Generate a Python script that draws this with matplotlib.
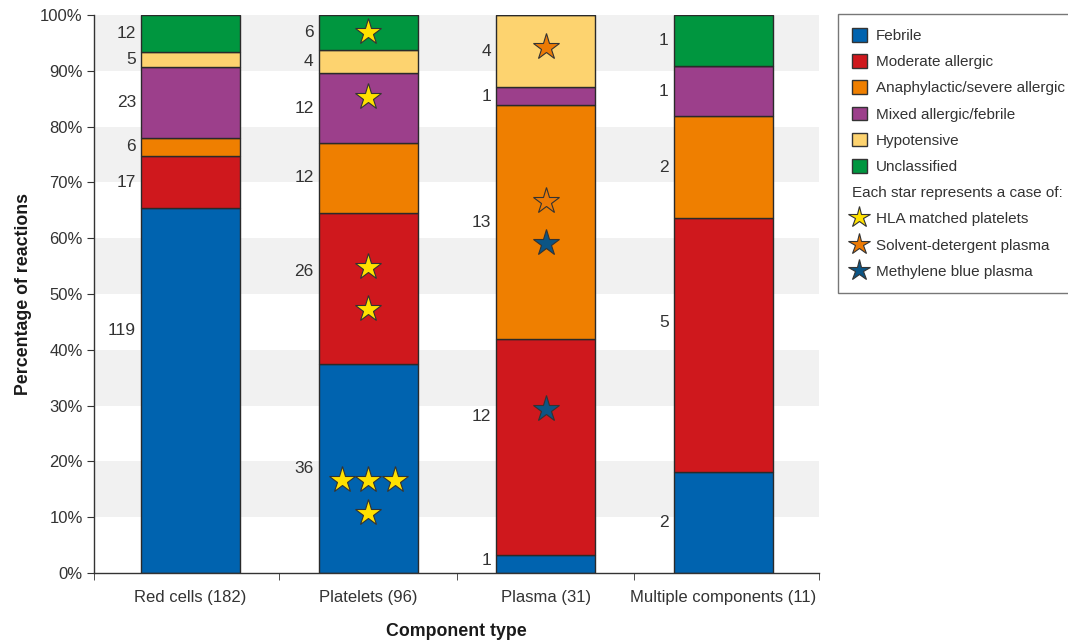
import matplotlib
matplotlib.use("Agg")
import matplotlib.pyplot as plt
import matplotlib.transforms as mtransforms
import numpy as np
from matplotlib.patches import Patch
from matplotlib.lines import Line2D

components = ["Red cells (182)", "Platelets (96)", "Plasma (31)", "Multiple components (11)"]
reactions = ["Febrile", "Moderate allergic", "Anaphylactic/severe allergic",
             "Mixed allergic/febrile", "Hypotensive", "Unclassified"]

# number of reactions per component type
febrile = [119, 36, 1, 2]
moderate_allergic = [17, 26, 12, 5]
anaphylactic = [6, 12, 13, 2]
mixed_allergic = [23, 12, 1, 1]
hypotensive = [5, 4, 4, 0]
unclassified = [12, 6, 0, 1]

star_types = ["HLA matched platelets", "Solvent-detergent plasma", "Methylene blue plasma"]
# each star = one case: (component, reaction, star type), listed top to bottom inside a segment
star_cases = [
    ("Platelets (96)", "Unclassified", "HLA matched platelets"),
    ("Platelets (96)", "Mixed allergic/febrile", "HLA matched platelets"),
    ("Platelets (96)", "Moderate allergic", "HLA matched platelets"),
    ("Platelets (96)", "Moderate allergic", "HLA matched platelets"),
    ("Platelets (96)", "Febrile", "HLA matched platelets"),
    ("Platelets (96)", "Febrile", "HLA matched platelets"),
    ("Platelets (96)", "Febrile", "HLA matched platelets"),
    ("Platelets (96)", "Febrile", "HLA matched platelets"),
    ("Plasma (31)", "Hypotensive", "Solvent-detergent plasma"),
    ("Plasma (31)", "Anaphylactic/severe allergic", "Solvent-detergent plasma"),
    ("Plasma (31)", "Anaphylactic/severe allergic", "Methylene blue plasma"),
    ("Plasma (31)", "Moderate allergic", "Methylene blue plasma"),
]

colors = ["#0063AF", "#CF181D", "#EF7F00", "#9C3F8B", "#FDD36F", "#00963F"]
star_colors = ["#FFE100", "#EC7A05", "#0C5585"]

# small hand placement tweaks (percentage points) to follow the original layout
label_nudge = {(0, 0): 10.8, (1, 1): 3.0, (2, 1): 5.4, (3, 1): 3.9, (2, 0): 0.7}
star_nudge = {(1, 0): -5.0, (2, 1): 6.8, (1, 3): 2.0, (2, 4): 0.8}

plt.rcParams['font.family'] = ['Liberation Sans', 'DejaVu Sans']
text_col = "#333333"

counts = np.array([febrile, moderate_allergic, anaphylactic, mixed_allergic, hypotensive, unclassified], dtype=float)
totals = counts.sum(axis=0)
pct = counts / totals * 100
bottoms = np.vstack([np.zeros(len(components)), np.cumsum(pct, axis=0)[:-1]])

fig = plt.figure(figsize=(10.68, 6.41), dpi=100)
ax = fig.add_axes([0.088, 0.106, 0.679, 0.8706])

x = np.arange(len(components))
width = 0.558
xlo, xhi = -0.544, len(components) - 0.459

for lo in range(10, 100, 20):
    ax.axhspan(lo, lo + 10, color="#F1F1F1", zorder=0, lw=0)

for r in range(len(reactions)):
    ax.bar(x, pct[r], width, bottom=bottoms[r], color=colors[r], edgecolor="#2a2a2a",
           linewidth=1, zorder=2, label=reactions[r])

# count labels left of each segment
for c in range(len(components)):
    for r in range(len(reactions)):
        if counts[r, c] == 0:
            continue
        y = bottoms[r, c] + pct[r, c] / 2 + label_nudge.get((c, r), 0)
        ax.text(x[c] - width / 2 - 0.028, y, f"{int(counts[r, c])}", ha="right", va="center",
                fontsize=12.5, color=text_col, zorder=3)

# stars: stacked in a column, or rows of three when a segment has many
groups = {}
for comp, reac, st in star_cases:
    groups.setdefault((components.index(comp), reactions.index(reac)), []).append(star_types.index(st))
dx = 0.149
for (c, r), stars in groups.items():
    per_row = 3 if len(stars) > 3 else 1
    rows = [stars[i:i + per_row] for i in range(0, len(stars), per_row)]
    center = bottoms[r, c] + pct[r, c] / 2 + star_nudge.get((c, r), 0)
    g = 6.0 if per_row == 3 else 7.6
    for i, row in enumerate(rows):
        yy = center + (len(rows) - 1) / 2 * g - i * g
        for j, st in enumerate(row):
            xx = x[c] + (j - (len(row) - 1) / 2) * dx
            ax.plot(xx, yy, marker="*", ms=20, color=star_colors[st], mec="#333333",
                    mew=0.8, zorder=4, linestyle="none")

ax.set_xlim(xlo, xhi)
ax.set_ylim(0, 100)
ax.set_yticks(range(0, 101, 10))
ax.set_yticklabels([f"{v}%" for v in range(0, 101, 10)])
ax.set_xticks(x)
ax.set_xticklabels(components)
ax.set_xticks([xlo] + list(np.arange(0.5, len(components) - 1)) + [xhi], minor=True)
ax.tick_params(axis="x", which="major", length=0, pad=12, labelsize=12, labelcolor=text_col)
ax.tick_params(axis="x", which="minor", length=5, direction="out", color=text_col)
ax.tick_params(axis="y", length=5, direction="out", color=text_col, labelsize=12, labelcolor=text_col, pad=3)
for s in ["top", "right"]:
    ax.spines[s].set_visible(False)
for s in ["left", "bottom"]:
    ax.spines[s].set_color(text_col)
    ax.spines[s].set_linewidth(1)

ax.set_ylabel("Percentage of reactions", fontsize=12.8, fontweight="bold", color="#1a1a1a")
ax.yaxis.set_label_coords(-0.086, 0.5)
ax.set_xlabel("Component type", fontsize=12.8, fontweight="bold", color="#1a1a1a", labelpad=13)

handles = [Patch(facecolor=colors[r], edgecolor="#333333", linewidth=1) for r in range(len(reactions))]
labels = list(reactions)
handles.append(Patch(visible=False))
labels.append("Each star represents a case of:")
for st in range(len(star_types)):
    handles.append(Line2D([], [], marker="*", ms=16, color=star_colors[st], mec="#333333",
                          mew=0.8, linestyle="none"))
    labels.append(star_types[st])

leg = fig.legend(handles, labels, loc="upper left", bbox_to_anchor=(0.7846, 0.978),
                 fontsize=11, frameon=True, fancybox=False, edgecolor="#555555",
                 handlelength=1.0, handleheight=1.0, handletextpad=0.6, labelspacing=0.73,
                 borderpad=0.9, borderaxespad=0)
leg.get_frame().set_linewidth(1)
for t in leg.get_texts():
    t.set_color(text_col)
# pull the header line back to the handle column
head = leg.get_texts()[len(reactions)]
shift = (1.0 + 0.6) * 11 * fig.dpi / 72
head.set_transform(head.get_transform() + mtransforms.Affine2D().translate(-shift, 0))

fig.savefig("out.png", dpi=100)
